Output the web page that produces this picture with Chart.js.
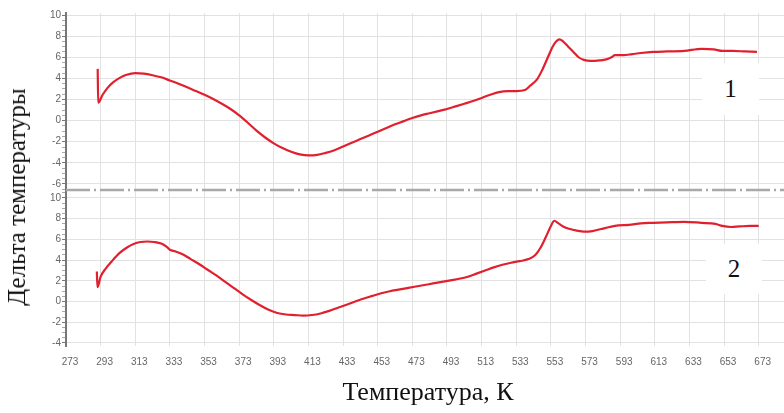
<!DOCTYPE html>
<html><head><meta charset="utf-8">
<script src="https://cdn.jsdelivr.net/npm/chart.js@4/dist/chart.umd.min.js"></script>
<style>
html,body{margin:0;padding:0;background:#fff;}
#wrap{position:relative;width:784px;height:413px;overflow:hidden;background:#fff;}
#c{position:absolute;left:0;top:0;}
.lbl{position:absolute;background:#fff;font-family:"Liberation Serif","Times New Roman",serif;font-size:25px;color:#111;display:flex;align-items:center;justify-content:center;}
.ytitle{position:absolute;font-family:"Liberation Serif","Times New Roman",serif;font-size:25px;color:#111;white-space:nowrap;left:17px;top:197px;transform:translate(-50%,-50%) rotate(-90deg);}
.xtitle{position:absolute;font-family:"Liberation Serif","Times New Roman",serif;font-size:26px;color:#111;white-space:nowrap;left:428px;top:392px;transform:translate(-50%,-50%);}
</style>
</head><body>
<div id="wrap">
<canvas id="c" width="784" height="413"></canvas>
<div class="lbl" style="left:702px;top:63px;width:57px;height:52px;">1</div>
<div class="lbl" style="left:706px;top:244px;width:56px;height:50px;">2</div>
<div class="ytitle">Дельта температуры</div>
<div class="xtitle">Температура, К</div>
</div>
<script>
const xTickValues = [273,293,313,333,353,373,393,413,433,453,473,493,513,533,553,573,593,613,633,653,673];

const tempTop = [291.3,291.6,294,297,300,304,308,313,318,323,328,333,338,343,348,353,358,363,368,373,378,383,388,393,398,403,408,413,418,423,428,433,438,443,448,453,458,463,468,473,478,483,488,493,498,503,508,513,518,523,528,533,538,541,545,548,551,554,556,558,560,563,566,569,572,576,581,585,588,590,595,600,605,612,620,630,640,647,652,658,665,672];
const deltaTop = [4.9,1.7,2.4,3.1,3.6,4.05,4.35,4.5,4.45,4.3,4.1,3.8,3.5,3.15,2.8,2.45,2.05,1.6,1.1,0.5,-0.2,-0.95,-1.6,-2.15,-2.6,-2.95,-3.2,-3.3,-3.25,-3.05,-2.8,-2.45,-2.1,-1.75,-1.4,-1.05,-0.7,-0.35,-0.05,0.25,0.5,0.7,0.9,1.1,1.35,1.6,1.85,2.15,2.45,2.7,2.8,2.8,2.9,3.3,3.9,4.8,5.9,7.0,7.5,7.7,7.5,7.0,6.5,6.0,5.75,5.65,5.7,5.8,6.0,6.2,6.2,6.3,6.4,6.5,6.55,6.6,6.8,6.75,6.6,6.6,6.55,6.5];

const tempBottom = [290.8,291.2,293,296,300,304,308,312,316,320,324,328,331,333,336,340,345,350,355,360,365,370,375,380,385,390,395,400,405,410,415,420,425,430,435,440,445,450,455,460,465,470,475,480,485,490,495,500,505,510,515,520,525,530,535,540,544,547,550,553,555,557,560,564,568,572,577,582,587,592,598,605,612,620,630,640,648,652,657,662,668,673];
const deltaBottom = [2.9,1.4,2.4,3.2,4.0,4.7,5.2,5.55,5.75,5.8,5.75,5.6,5.3,5.0,4.85,4.6,4.1,3.6,3.05,2.5,1.9,1.3,0.7,0.15,-0.35,-0.8,-1.1,-1.25,-1.3,-1.35,-1.3,-1.15,-0.9,-0.6,-0.3,0.0,0.3,0.55,0.8,1.0,1.15,1.3,1.45,1.6,1.75,1.9,2.05,2.2,2.4,2.7,3.0,3.3,3.55,3.75,3.9,4.1,4.5,5.2,6.2,7.3,7.8,7.6,7.25,7.0,6.85,6.75,6.8,7.0,7.2,7.35,7.4,7.55,7.6,7.65,7.7,7.6,7.5,7.3,7.2,7.25,7.3,7.3];

const toPts = (xs, ys) => xs.map((x, i) => ({x: x, y: ys[i]}));
const isMajor = v => Math.abs(v % 2) < 1e-6;

function yAxis(min, max, weight) {
  return {
    type: 'linear', position: 'left', stack: 'panels', stackWeight: weight,
    min: min, max: max,
    afterFit: s => { s.width = 66; },
    ticks: {
      stepSize: 0.5, includeBounds: false, autoSkip: false, padding: 1,
      color: '#666', font: {family: '"Liberation Sans", Arial, sans-serif', size: 10},
      callback: v => isMajor(v) ? String(Math.round(v)) : ''
    },
    grid: {
      color: c => (c.tick && isMajor(c.tick.value)) ? '#e2e2e2' : 'rgba(0,0,0,0)',
      tickColor: c => (c.tick && isMajor(c.tick.value)) ? '#777' : '#aaa',
      tickLength: 4, lineWidth: 1
    },
    border: {display: true, color: '#777', width: 2}
  };
}

const sepPlugin = {
  id: 'sep',
  afterDraw(chart) {
    const {ctx, chartArea, scales} = chart;
    const y = scales.yTop.bottom;
    ctx.save();
    ctx.strokeStyle = '#a9a9a9';
    ctx.lineWidth = 2.5;
    ctx.setLineDash([24, 4, 2, 4]);
    ctx.beginPath();
    ctx.moveTo(chartArea.left, y);
    ctx.lineTo(chartArea.right, y);
    ctx.stroke();
    ctx.restore();
  }
};

new Chart(document.getElementById('c'), {
  type: 'line',
  data: {
    datasets: [
      {label: '1', data: toPts(tempTop, deltaTop), yAxisID: 'yTop', borderColor: '#e0202e', borderWidth: 2.2, pointRadius: 0, cubicInterpolationMode: 'monotone', fill: false},
      {label: '2', data: toPts(tempBottom, deltaBottom), yAxisID: 'yBottom', borderColor: '#e0202e', borderWidth: 2.2, pointRadius: 0, cubicInterpolationMode: 'monotone', fill: false}
    ]
  },
  options: {
    responsive: false, animation: false, devicePixelRatio: 1,
    layout: {padding: {top: 13, right: 0, bottom: 0, left: 0}},
    plugins: {legend: {display: false}, tooltip: {enabled: false}},
    scales: {
      x: {
        type: 'linear', min: 273, max: 687.6,
        afterBuildTicks: s => { s.ticks = xTickValues.map(v => ({value: v})); },
        afterFit: s => { s.height = 67; },
        ticks: {autoSkip: false, maxRotation: 0, padding: 10, labelOffset: 4, color: '#666', font: {family: '"Liberation Sans", Arial, sans-serif', size: 10}},
        grid: {color: '#e2e2e2', drawTicks: false, lineWidth: 1},
        border: {display: false}
      },
      yBottom: yAxis(-4.29, 10.77, 156),
      yTop: yAxis(-6.57, 10.19, 177)
    }
  },
  plugins: [sepPlugin]
});
</script>
</body></html>
